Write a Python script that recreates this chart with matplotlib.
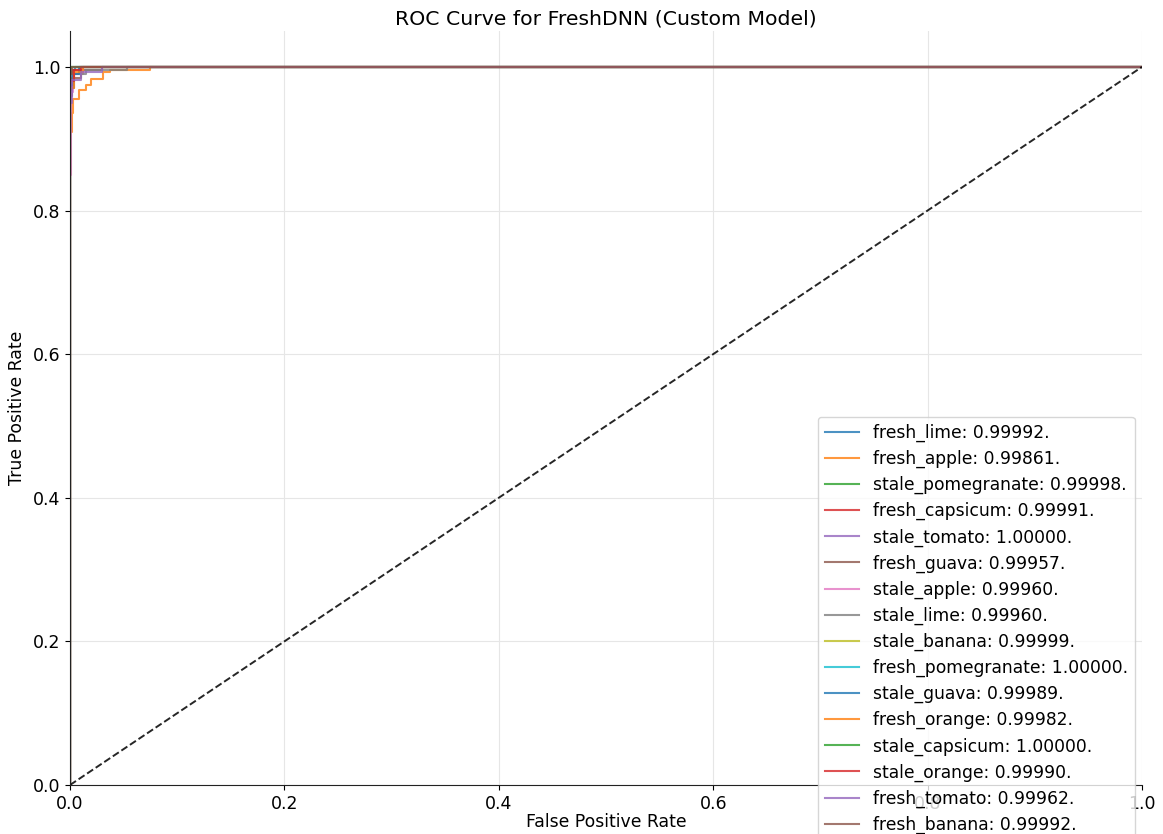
import matplotlib
matplotlib.use("Agg")
import matplotlib.pyplot as plt

# ---- data ----
class_names = ["fresh_lime", "fresh_apple", "stale_pomegranate", "fresh_capsicum",
               "stale_tomato", "fresh_guava", "stale_apple", "stale_lime",
               "stale_banana", "fresh_pomegranate", "stale_guava", "fresh_orange",
               "stale_capsicum", "stale_orange", "fresh_tomato", "fresh_banana"]
auc_values = [0.99992, 0.99861, 0.99998, 0.99991, 1.00000, 0.99957, 0.99960, 0.99960,
              0.99999, 1.00000, 0.99989, 0.99982, 1.00000, 0.99990, 0.99962, 0.99992]

fpr_fresh_lime = [0, 0, 0.002, 0.002, 0.005, 0.005, 1]
tpr_fresh_lime = [0, 0.97, 0.97, 0.995, 0.995, 1.0, 1.0]
fpr_fresh_apple = [0, 0, 0.0015, 0.0015, 0.003, 0.003, 0.008, 0.008, 0.015, 0.015,
                   0.020, 0.020, 0.031, 0.031, 0.037, 0.037, 0.075, 0.075, 1]
tpr_fresh_apple = [0, 0.909, 0.909, 0.936, 0.936, 0.955, 0.955, 0.968, 0.968, 0.975,
                   0.975, 0.983, 0.983, 0.993, 0.993, 0.996, 0.996, 1.0, 1.0]
fpr_stale_pomegranate = [0, 0, 0.001, 0.001, 1]
tpr_stale_pomegranate = [0, 0.99, 0.99, 1.0, 1.0]
fpr_fresh_capsicum = [0, 0, 0.003, 0.003, 0.009, 0.009, 1]
tpr_fresh_capsicum = [0, 0.98, 0.98, 0.995, 0.995, 1.0, 1.0]
fpr_stale_tomato = [0, 0, 1]
tpr_stale_tomato = [0, 1.0, 1.0]
fpr_fresh_guava = [0, 0, 0.002, 0.002, 0.010, 0.010, 0.030, 0.030, 1]
tpr_fresh_guava = [0, 0.96, 0.96, 0.985, 0.985, 0.995, 0.995, 1.0, 1.0]
fpr_stale_apple = [0, 0, 0.0008, 0.0008, 0.003, 0.003, 0.012, 0.012, 1]
tpr_stale_apple = [0, 0.85, 0.85, 0.965, 0.965, 0.99, 0.99, 1.0, 1.0]
fpr_stale_lime = [0, 0, 0.004, 0.004, 0.015, 0.015, 0.053, 0.053, 1]
tpr_stale_lime = [0, 0.97, 0.97, 0.99, 0.99, 0.996, 0.996, 1.0, 1.0]
fpr_stale_banana = [0, 0, 0.001, 0.001, 1]
tpr_stale_banana = [0, 0.995, 0.995, 1.0, 1.0]
fpr_fresh_pomegranate = [0, 0, 1]
tpr_fresh_pomegranate = [0, 1.0, 1.0]
fpr_stale_guava = [0, 0, 0.003, 0.003, 0.008, 0.008, 1]
tpr_stale_guava = [0, 0.975, 0.975, 0.99, 0.99, 1.0, 1.0]
fpr_fresh_orange = [0, 0, 0.004, 0.004, 0.012, 0.012, 1]
tpr_fresh_orange = [0, 0.97, 0.97, 0.993, 0.993, 1.0, 1.0]
fpr_stale_capsicum = [0, 0, 1]
tpr_stale_capsicum = [0, 1.0, 1.0]
fpr_stale_orange = [0, 0, 0.004, 0.004, 0.010, 0.010, 1]
tpr_stale_orange = [0, 0.98, 0.98, 0.996, 0.996, 1.0, 1.0]
fpr_fresh_tomato = [0, 0, 0.002, 0.002, 0.010, 0.010, 0.030, 0.030, 1]
tpr_fresh_tomato = [0, 0.95, 0.95, 0.982, 0.982, 0.993, 0.993, 1.0, 1.0]
fpr_fresh_banana = [0, 0, 0.002, 0.002, 1]
tpr_fresh_banana = [0, 0.99, 0.99, 1.0, 1.0]

fpr_list = [fpr_fresh_lime, fpr_fresh_apple, fpr_stale_pomegranate, fpr_fresh_capsicum,
            fpr_stale_tomato, fpr_fresh_guava, fpr_stale_apple, fpr_stale_lime,
            fpr_stale_banana, fpr_fresh_pomegranate, fpr_stale_guava, fpr_fresh_orange,
            fpr_stale_capsicum, fpr_stale_orange, fpr_fresh_tomato, fpr_fresh_banana]
tpr_list = [tpr_fresh_lime, tpr_fresh_apple, tpr_stale_pomegranate, tpr_fresh_capsicum,
            tpr_stale_tomato, tpr_fresh_guava, tpr_stale_apple, tpr_stale_lime,
            tpr_stale_banana, tpr_fresh_pomegranate, tpr_stale_guava, tpr_fresh_orange,
            tpr_stale_capsicum, tpr_stale_orange, tpr_fresh_tomato, tpr_fresh_banana]

x_ticks = [0.0, 0.2, 0.4, 0.6, 0.8, 1.0]
y_ticks = [0.0, 0.2, 0.4, 0.6, 0.8, 1.0]

# ---- plot ----
plt.rcParams["font.size"] = 12.5
fig = plt.figure(figsize=(11.63, 8.34), dpi=100)
ax = fig.add_axes([70 / 1163, 1 - 785 / 834, 1072 / 1163, 754 / 834])

for name, auc, fpr, tpr in zip(class_names, auc_values, fpr_list, tpr_list):
    ax.plot(fpr, tpr, label=f"{name}: {auc:.5f}.", lw=1.5, alpha=0.8)

ax.plot([0, 1], [0, 1], "k--", lw=1.4, alpha=0.85)

ax.set_xlim(0, 1.0)
ax.set_ylim(0, 1.05)
ax.set_xticks(x_ticks)
ax.set_yticks(y_ticks)
ax.tick_params(labelsize=12.5)
ax.grid(True, color="#e6e6e6", lw=0.8)
ax.set_axisbelow(True)
ax.spines["top"].set_visible(False)
ax.spines["right"].set_visible(False)
for s in ("left", "bottom"):
    ax.spines[s].set_color("#222222")
ax.set_xlabel("False Positive Rate", fontsize=12.4, labelpad=0)
ax.set_ylabel("True Positive Rate", fontsize=12.4, labelpad=5)
ax.set_title("ROC Curve for FreshDNN (Custom Model)", fontsize=14.7, pad=5)

ax.legend(loc="upper left", bbox_to_anchor=(748 / 1072, 368 / 754),
          borderaxespad=0, fontsize=12.3, labelspacing=0.46)

fig.savefig("out.png", dpi=100)
